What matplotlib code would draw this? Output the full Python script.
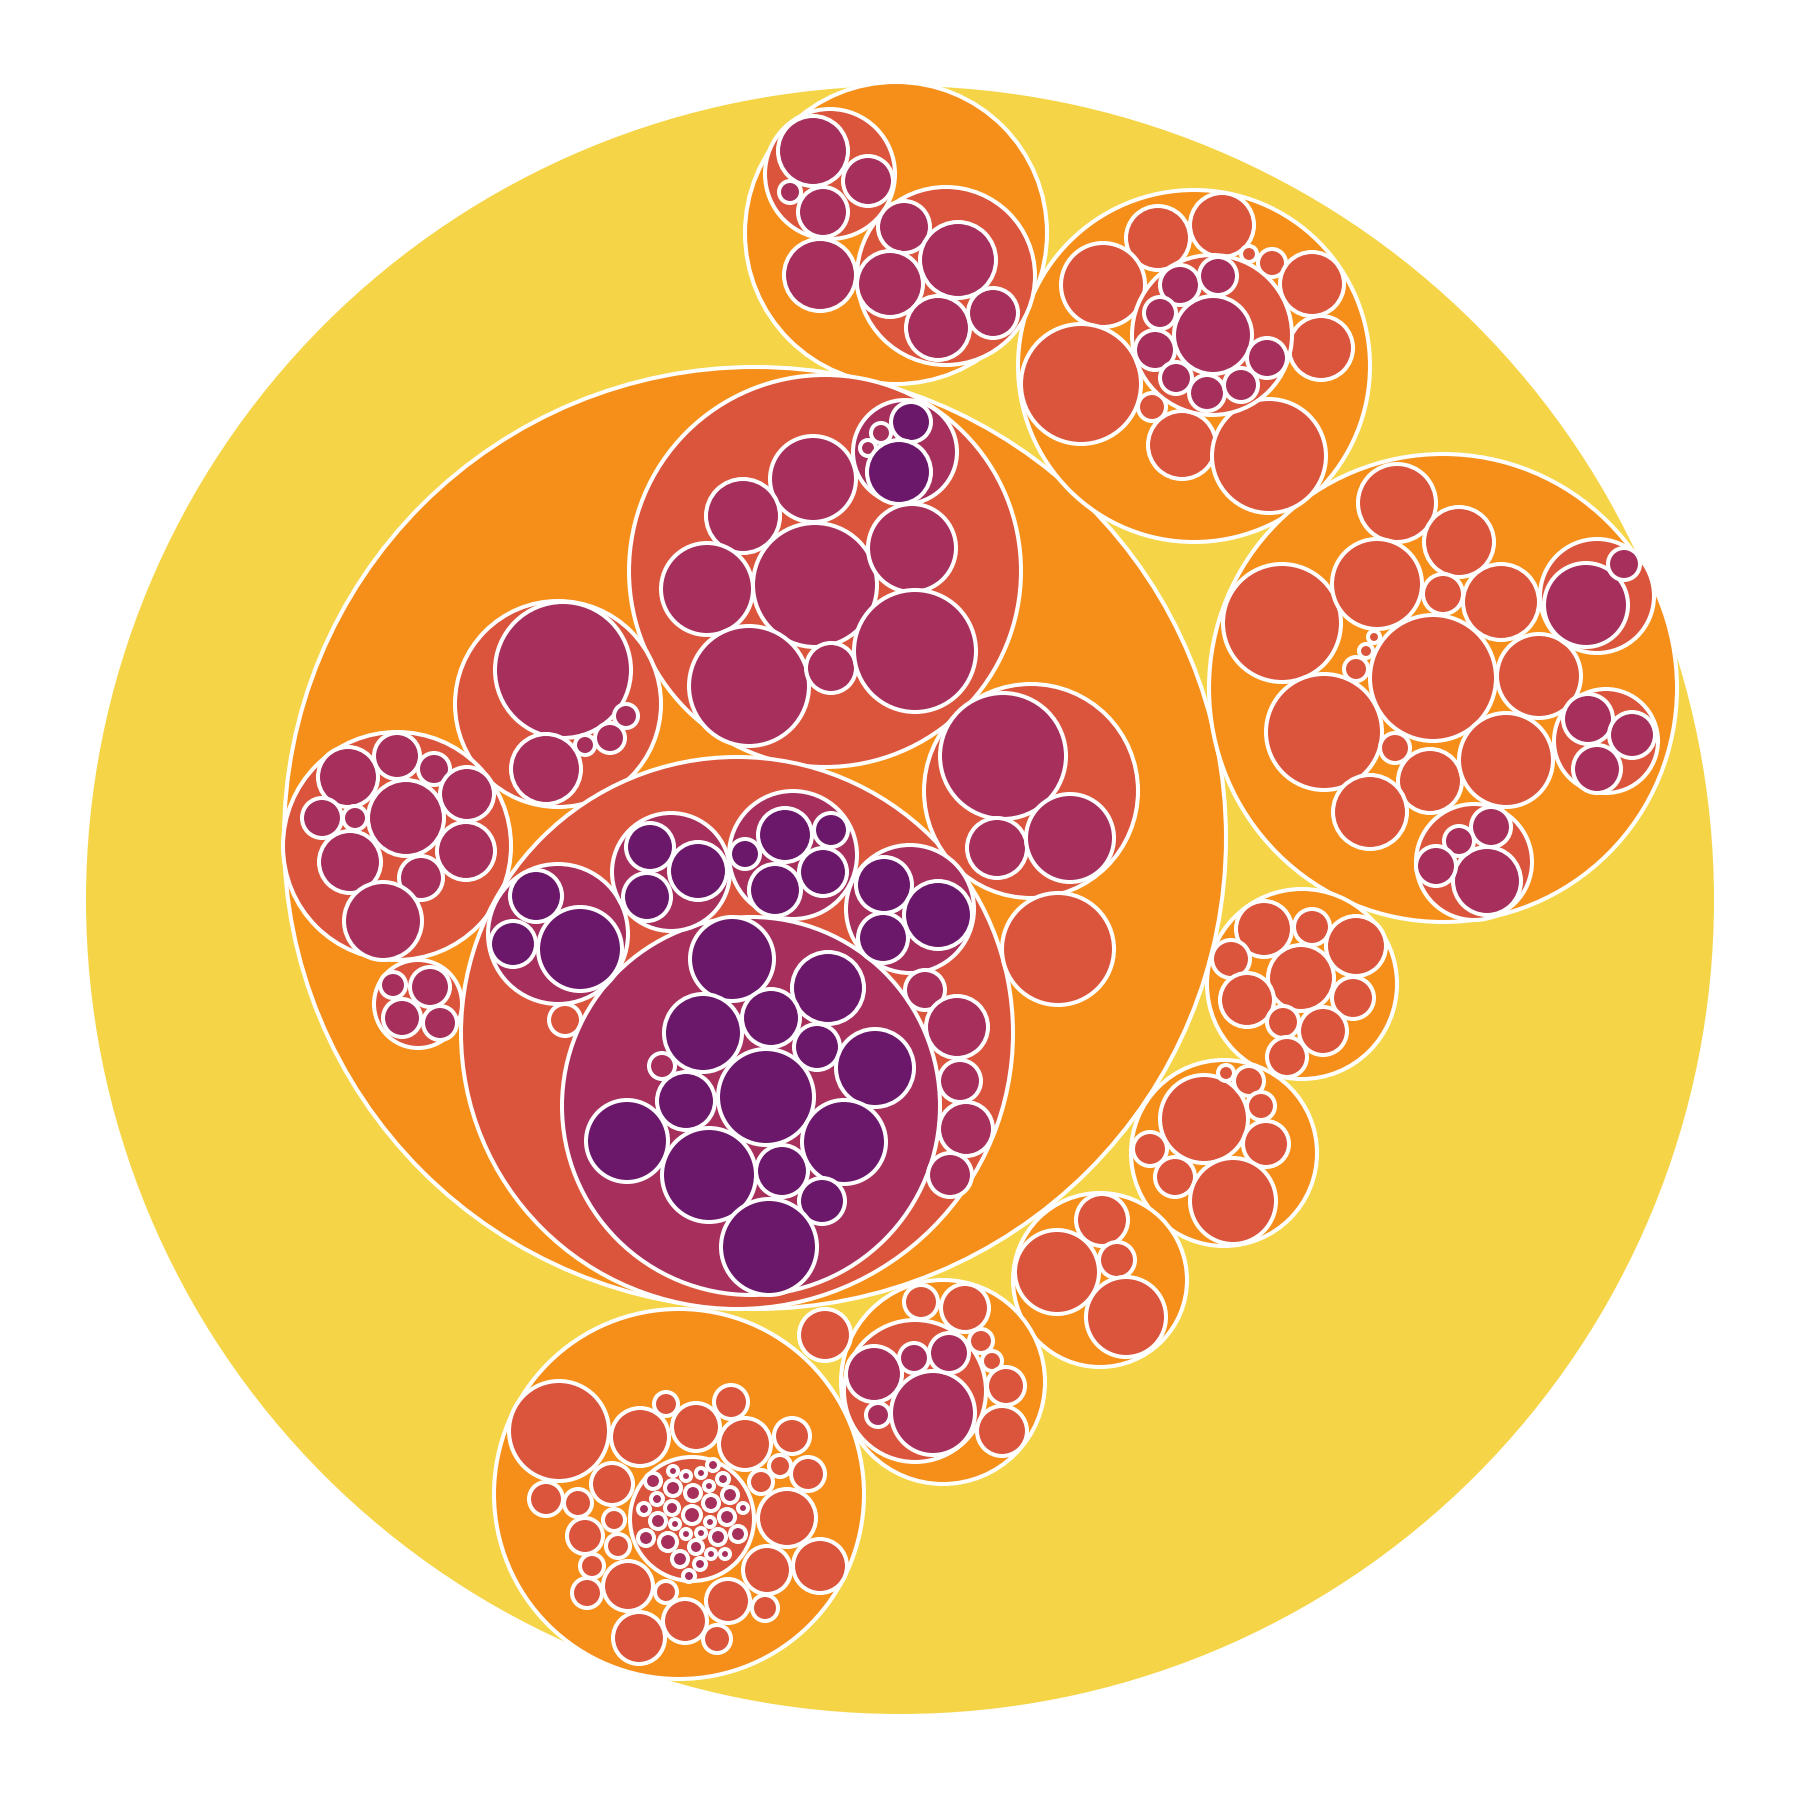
import matplotlib
matplotlib.use("Agg")
import matplotlib.pyplot as plt
from matplotlib.patches import Circle

# Circle-packing layout: (x, y, radius) in layout units (0..1800, y downward)
ROOT = [(900, 900, 816)]

ORANGE = [
    (755, 838, 471), (896, 233, 151), (1194, 366, 176), (1443, 688, 234),
    (1302, 984, 95), (1224, 1153, 93), (1100, 1280, 87), (943, 1382, 102),
    (679, 1494, 185),
]

RED = [
    # top orange
    (830, 174, 65), (946, 276, 89),
    # top-right orange
    (1158, 238, 32), (1222, 225, 32), (1249, 254, 8), (1272, 263, 14),
    (1103, 285, 42), (1312, 284, 32), (1321, 348, 32), (1081, 384, 60),
    (1152, 407, 14), (1182, 445, 34), (1269, 456, 57), (1212, 335, 80),
    # right orange
    (1397, 503, 39), (1459, 542, 35), (1282, 623, 59), (1377, 584, 45),
    (1443, 594, 20), (1501, 602, 38), (1433, 678, 63), (1374, 637, 6),
    (1366, 651, 7), (1356, 669, 12), (1539, 676, 42), (1324, 732, 58),
    (1395, 748, 15), (1430, 781, 32), (1506, 760, 47), (1370, 812, 37),
    (1597, 596, 57), (1606, 741, 52), (1474, 862, 58),
    # big orange
    (825, 571, 196), (558, 704, 103), (397, 846, 114), (418, 1004, 44),
    (737, 1033, 276), (1031, 791, 107), (1058, 949, 56),
    # orange (1302, 984)
    (1264, 929, 28), (1312, 927, 18), (1356, 946, 30), (1231, 959, 19),
    (1301, 978, 33), (1353, 998, 21), (1247, 1000, 27), (1283, 1022, 16),
    (1323, 1031, 24), (1287, 1057, 20),
    # orange (1224, 1153)
    (1204, 1119, 44), (1226, 1073, 8), (1249, 1081, 15), (1261, 1106, 14),
    (1266, 1144, 23), (1150, 1149, 17), (1175, 1177, 20), (1233, 1201, 43),
    # orange (1100, 1280)
    (1057, 1272, 42), (1102, 1220, 26), (1117, 1260, 18), (1126, 1317, 40),
    # orange (943, 1382)
    (915, 1391, 71), (921, 1302, 17), (965, 1308, 24), (981, 1341, 12),
    (992, 1361, 10), (1006, 1386, 19), (1002, 1431, 25),
    # leaf directly under root
    (825, 1335, 26),
    # bottom orange
    (559, 1431, 50), (546, 1499, 17), (578, 1503, 14), (612, 1484, 21),
    (640, 1437, 29), (666, 1404, 12), (696, 1427, 24), (731, 1402, 17),
    (745, 1444, 26), (792, 1436, 18), (780, 1466, 11), (808, 1474, 17),
    (761, 1482, 12), (787, 1518, 29), (820, 1566, 27), (767, 1570, 24),
    (765, 1608, 13), (728, 1601, 22), (666, 1592, 11), (685, 1621, 22),
    (717, 1639, 14), (639, 1638, 26), (628, 1586, 25), (587, 1593, 15),
    (592, 1566, 12), (585, 1536, 18), (614, 1520, 11), (618, 1546, 12),
    (692, 1519, 62),
    # small leaf inside the large red circle
    (565, 1020, 16),
]

MAGENTA = [
    (813, 151, 35), (868, 181, 25), (790, 192, 11), (823, 212, 25),
    (820, 275, 36),
    (904, 227, 26), (958, 260, 38), (890, 284, 33), (938, 328, 32), (993, 313, 25),
    (1213, 335, 39), (1180, 285, 20), (1218, 276, 19), (1160, 313, 16),
    (1155, 350, 20), (1176, 378, 16), (1207, 393, 18), (1241, 385, 17),
    (1267, 358, 20),
    (1586, 605, 42), (1624, 564, 16),
    (1588, 719, 25), (1632, 735, 23), (1597, 769, 24),
    (1487, 881, 34), (1491, 827, 20), (1459, 841, 15), (1436, 866, 20),
    (905, 452, 52), (813, 479, 43), (743, 516, 37), (707, 589, 46),
    (815, 585, 62), (912, 548, 44), (749, 686, 60), (831, 668, 25),
    (915, 651, 61),
    (563, 670, 68), (546, 769, 35), (585, 745, 10), (610, 738, 15), (626, 716, 12),
    (406, 818, 38), (348, 777, 30), (397, 756, 23), (434, 769, 16),
    (467, 794, 27), (322, 818, 20), (355, 818, 12), (350, 862, 31),
    (466, 851, 29), (421, 878, 22), (383, 921, 39),
    (393, 985, 13), (430, 987, 20), (402, 1018, 19), (440, 1023, 17),
    (751, 1106, 189), (558, 934, 70), (671, 872, 59), (793, 855, 64),
    (910, 909, 64), (925, 990, 20), (957, 1027, 31), (960, 1081, 21),
    (966, 1129, 27), (950, 1175, 22),
    (1003, 756, 63), (997, 848, 30), (1070, 838, 44),
    (933, 1413, 42), (874, 1374, 28), (914, 1358, 15), (949, 1353, 20), (878, 1415, 12),
    # tiny leaves of the small red circle in the bottom orange
    (653, 1481, 8), (673, 1471, 5), (686, 1476, 5), (701, 1473, 5),
    (713, 1465, 6), (723, 1479, 6), (709, 1486, 5), (673, 1488, 8),
    (693, 1493, 8), (657, 1499, 6), (730, 1495, 8), (644, 1509, 6),
    (672, 1508, 7), (711, 1503, 8), (743, 1508, 5), (692, 1515, 9),
    (658, 1521, 8), (675, 1524, 5), (710, 1522, 5), (727, 1517, 8),
    (646, 1538, 8), (668, 1542, 9), (686, 1534, 5), (701, 1533, 5),
    (718, 1537, 8), (738, 1534, 8), (696, 1547, 7), (711, 1554, 5),
    (725, 1554, 5), (680, 1559, 8), (700, 1564, 6), (689, 1576, 6),
    # small leaves sitting inside magenta parents
    (881, 433, 10), (868, 448, 8), (662, 1066, 13),
]

PURPLE = [
    (911, 422, 20), (899, 472, 32),
    (536, 896, 26), (513, 944, 23), (580, 949, 42),
    (650, 847, 24), (647, 897, 24), (698, 871, 29),
    (745, 854, 15), (785, 835, 27), (831, 830, 17), (775, 890, 26), (823, 872, 24),
    (884, 885, 28), (883, 938, 25), (938, 915, 34),
    (732, 959, 42), (828, 988, 36), (703, 1033, 39), (771, 1018, 29),
    (817, 1047, 23), (686, 1101, 29), (766, 1097, 48), (875, 1068, 39),
    (627, 1141, 41), (709, 1175, 47), (782, 1171, 26), (844, 1142, 42),
    (822, 1201, 23), (769, 1247, 48),
]

LEVELS = [
    (ROOT, "#F5D547"),
    (ORANGE, "#F58F1A"),
    (RED, "#DA553B"),
    (MAGENTA, "#A62F5B"),
    (PURPLE, "#6B186B"),
]

fig = plt.figure(figsize=(18, 18), dpi=100)
ax = fig.add_axes([0, 0, 1, 1])
ax.set_xlim(0, 1800)
ax.set_ylim(1800, 0)
ax.set_aspect("equal")
ax.axis("off")

for data, color in LEVELS:
    for x, y, r in data:
        ax.add_patch(Circle((x, y), r, facecolor=color, edgecolor="white",
                            linewidth=2.9))

fig.savefig("out.png", dpi=100, facecolor="white")
